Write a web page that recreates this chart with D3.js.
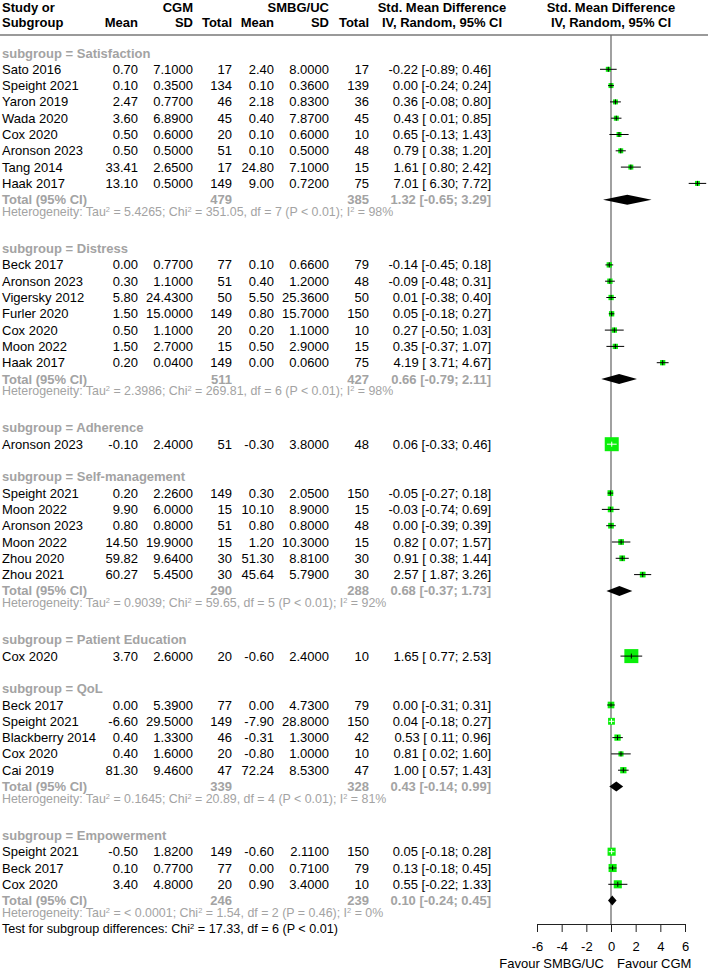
<!DOCTYPE html>
<html>
<head>
<meta charset="utf-8">
<script src="https://cdn.jsdelivr.net/npm/d3@7"></script>
<style>
body { margin: 0; background: #fff; }
text { font-family: Arial, "Liberation Sans", sans-serif; white-space: pre; }
</style>
</head>
<body>
<script>
// subgroups
const subgroups = ["Satisfaction", "Distress", "Adherence", "Self-management", "Patient Education", "QoL", "Empowerment"]

// studies, each pointing into subgroups
const studyGroup = [0,0,0,0,0,0,0,0, 1,1,1,1,1,1,1, 2, 3,3,3,3,3,3, 4, 5,5,5,5,5, 6,6,6]
const studies = ["Sato 2016", "Speight 2021", "Yaron 2019", "Wada 2020", "Cox 2020", "Aronson 2023", "Tang 2014", "Haak 2017",
    "Beck 2017", "Aronson 2023", "Vigersky 2012", "Furler 2020", "Cox 2020", "Moon 2022", "Haak 2017",
    "Aronson 2023",
    "Speight 2021", "Moon 2022", "Aronson 2023", "Moon 2022", "Zhou 2020", "Zhou 2021",
    "Cox 2020",
    "Beck 2017", "Speight 2021", "Blackberry 2014", "Cox 2020", "Cai 2019",
    "Speight 2021", "Beck 2017", "Cox 2020"]

// CGM arm
const cgmMean = [0.70, 0.10, 2.47, 3.60, 0.50, 0.50, 33.41, 13.10,
    0.00, 0.30, 5.80, 1.50, 0.50, 1.50, 0.20,
    -0.10,
    0.20, 9.90, 0.80, 14.50, 59.82, 60.27,
    3.70,
    0.00, -6.60, 0.40, 0.40, 81.30,
    -0.50, 0.10, 3.40]
const cgmSD = [7.1, 0.35, 0.77, 6.89, 0.6, 0.5, 2.65, 0.5,
    0.77, 1.1, 24.43, 15.0, 1.1, 2.7, 0.04,
    2.4,
    2.26, 6.0, 0.8, 19.9, 9.64, 5.45,
    2.6,
    5.39, 29.5, 1.33, 1.6, 9.46,
    1.82, 0.77, 4.8]
const cgmN = [17, 134, 46, 45, 20, 51, 17, 149,
    77, 51, 50, 149, 20, 15, 149,
    51,
    149, 15, 51, 15, 30, 30,
    20,
    77, 149, 46, 20, 47,
    149, 77, 20]

// SMBG/UC arm
const ctlMean = [2.40, 0.10, 2.18, 0.40, 0.10, 0.10, 24.80, 9.00,
    0.10, 0.40, 5.50, 0.80, 0.20, 0.50, 0.00,
    -0.30,
    0.30, 10.10, 0.80, 1.20, 51.30, 45.64,
    -0.60,
    0.00, -7.90, -0.31, -0.80, 72.24,
    -0.60, 0.00, 0.90]
const ctlSD = [8.0, 0.36, 0.83, 7.87, 0.6, 0.5, 7.1, 0.72,
    0.66, 1.2, 25.36, 15.7, 1.1, 2.9, 0.06,
    3.8,
    2.05, 8.9, 0.8, 10.3, 8.81, 5.79,
    2.4,
    4.73, 28.8, 1.3, 1.0, 8.53,
    2.11, 0.71, 3.4]
const ctlN = [17, 139, 36, 45, 10, 48, 15, 75,
    79, 48, 50, 150, 10, 15, 75,
    48,
    150, 15, 48, 15, 30, 30,
    10,
    79, 150, 42, 10, 47,
    150, 79, 10]

// std. mean difference with 95% CI
const smd = [-0.22, 0.00, 0.36, 0.43, 0.65, 0.79, 1.61, 7.01,
    -0.14, -0.09, 0.01, 0.05, 0.27, 0.35, 4.19,
    0.06,
    -0.05, -0.03, 0.00, 0.82, 0.91, 2.57,
    1.65,
    0.00, 0.04, 0.53, 0.81, 1.00,
    0.05, 0.13, 0.55]
const smdLo = [-0.89, -0.24, -0.08, 0.01, -0.13, 0.38, 0.80, 6.30,
    -0.45, -0.48, -0.38, -0.18, -0.50, -0.37, 3.71,
    -0.33,
    -0.27, -0.74, -0.39, 0.07, 0.38, 1.87,
    0.77,
    -0.31, -0.18, 0.11, 0.02, 0.57,
    -0.18, -0.18, -0.22]
const smdHi = [0.46, 0.24, 0.80, 0.85, 1.43, 1.20, 2.42, 7.72,
    0.18, 0.31, 0.40, 0.27, 1.03, 1.07, 4.67,
    0.46,
    0.18, 0.69, 0.39, 1.57, 1.44, 3.26,
    2.53,
    0.31, 0.27, 0.96, 1.60, 1.43,
    0.28, 0.45, 1.33]
// weight within subgroup (%)
const weight = [12.5, 12.5, 12.5, 12.5, 12.5, 12.5, 12.5, 12.5,
    14.3, 14.3, 14.3, 14.3, 14.3, 14.3, 14.3,
    100,
    16.7, 16.7, 16.7, 16.7, 16.7, 16.7,
    100,
    22.5, 24.0, 20.2, 13.1, 20.1,
    33.3, 33.3, 33.3]

// subgroup totals (null = single study)
const poolN1 = [479, 511, null, 290, null, 339, 246]
const poolN2 = [385, 427, null, 288, null, 328, 239]
const poolSmd = [1.32, 0.66, null, 0.68, null, 0.43, 0.10]
const poolLo = [-0.65, -0.79, null, -0.37, null, -0.14, -0.24]
const poolHi = [3.29, 2.11, null, 1.73, null, 0.99, 0.45]
const hetTau2 = ["5.4265", "2.3986", null, "0.9039", null, "0.1645", "< 0.0001"]
const hetChi2 = ["351.05", "269.81", null, "59.65", null, "20.89", "1.54"]
const hetDf = [7, 6, null, 5, null, 4, 2]
const hetP = ["< 0.01", "< 0.01", null, "< 0.01", null, "< 0.01", "= 0.46"]
const hetI2 = ["98%", "98%", null, "92%", null, "81%", "0%"]
const testText = ["Test for subgroup differences: Chi", "2", " = 17.33, df = 6 (P < 0.01)"]

// axis
const tickVals = [-6, -4, -2, 0, 2, 4, 6]
const tickLabels = ["-6", "-4", "-2", "0", "2", "4", "6"]
const labelLeft = "Favour SMBG/UC", labelRight = "Favour CGM"

let width = 708, height = 971
const gray = "#a3a3a3", green = "#0aef0a"

// canvas
let svg = d3.select("body").append("svg")
    .attr("width", width)
    .attr("height", height)
    .style("display", "block")

// columns (right edges) 
const col = {name: 2, m1: 138, sd1: 193, n1: 232, m2: 274, sd2: 329, n2: 369, est: 491}

// build rows
let rows = []
subgroups.forEach(function (g, gi) {
    if (gi > 0) rows.push({type: "blank"})
    rows.push({type: "label", g: gi})
    studyGroup.forEach(function (sg, i) { if (sg === gi) rows.push({type: "study", i: i}) })
    if (poolSmd[gi] != null) {
        rows.push({type: "total", g: gi})
        rows.push({type: "het", g: gi})
    }
})
rows.push({type: "test"})

let y = d3.scaleLinear().domain([0, rows.length - 1]).range([53, 53 + 16.3 * (rows.length - 1)])
let x = d3.scaleLinear().domain([-6, 6]).range([537, 685])
let boxSize = d3.scaleSqrt().domain([0, 100]).range([0, 14])

function ciText(e, lo, hi) {
    return e.toFixed(2) + " [" + (lo >= 0 ? " " : "") + lo.toFixed(2) + "; " + hi.toFixed(2) + "]"
}

function addText(tx, ty, str, anchor, opts) {
    opts = opts || {}
    return svg.append("text")
        .attr("x", tx).attr("y", ty).attr("dy", "0.35em")
        .attr("text-anchor", anchor)
        .attr("font-size", opts.size || 13)
        .attr("font-weight", opts.bold ? "bold" : "normal")
        .attr("fill", opts.fill || "#000")
        .text(str)
}

// text with superscript 2s, parts alternate normal / sup
function addSupText(tx, ty, parts, opts) {
    let t = svg.append("text")
        .attr("x", tx).attr("y", ty).attr("dy", "0.35em")
        .attr("font-size", opts.size)
        .attr("fill", opts.fill)
    parts.forEach(function (p, k) {
        if (k % 2 === 1) {
            t.append("tspan").attr("dy", -4).attr("font-size", opts.size * 0.6).text(p)
        } else {
            t.append("tspan").attr("dy", k > 0 ? 4 : 0).text(p)
        }
    })
}

// header
addText(col.name, 7, "Study or", "start", {bold: true})
addText(col.name, 22, "Subgroup", "start", {bold: true})
addText(col.sd1, 7, "CGM", "end", {bold: true})
addText(col.sd2, 7, "SMBG/UC", "end", {bold: true})
const subHeads = [["Mean", col.m1], ["SD", col.sd1], ["Total", col.n1], ["Mean", col.m2], ["SD", col.sd2], ["Total", col.n2]]
subHeads.forEach(function (h) { addText(h[1], 22, h[0], "end", {bold: true}) })
addText(442, 7, "Std. Mean Difference", "middle", {bold: true})
addText(442, 22, "IV, Random, 95% CI", "middle", {bold: true})
addText(x(0), 7, "Std. Mean Difference", "middle", {bold: true})
addText(x(0), 22, "IV, Random, 95% CI", "middle", {bold: true})

svg.append("line")
    .attr("x1", 0).attr("x2", width)
    .attr("y1", 35).attr("y2", 35)
    .attr("stroke", "#9a9a9a").attr("stroke-width", 2)

// reference line
const axisY = 924
svg.append("line")
    .attr("x1", x(0)).attr("x2", x(0))
    .attr("y1", 35).attr("y2", axisY)
    .attr("stroke", "#6e6e6e").attr("stroke-width", 1.3)

// rows
rows.forEach(function (r, ri) {
    let yy = y(ri)
    if (r.type === "label") {
        addText(col.name, yy, "subgroup = " + subgroups[r.g], "start", {bold: true, fill: gray})
    } else if (r.type === "study") {
        let i = r.i
        addText(col.name, yy, studies[i], "start")
        addText(col.m1, yy, cgmMean[i].toFixed(2), "end")
        addText(col.sd1, yy, cgmSD[i].toFixed(4), "end")
        addText(col.n1, yy, cgmN[i], "end")
        addText(col.m2, yy, ctlMean[i].toFixed(2), "end")
        addText(col.sd2, yy, ctlSD[i].toFixed(4), "end")
        addText(col.n2, yy, ctlN[i], "end")
        addText(col.est, yy, ciText(smd[i], smdLo[i], smdHi[i]), "end")

        let s = boxSize(weight[i])
        let cx = x(smd[i])
        svg.append("rect")
            .attr("x", cx - s / 2).attr("y", yy - s / 2)
            .attr("width", s).attr("height", s)
            .attr("fill", green)
        // CI inside box -> white line
        let inside = x(smdLo[i]) >= cx - s / 2 + 0.5 && x(smdHi[i]) <= cx + s / 2 - 0.5
        let lc = inside ? "#fff" : "#000"
        svg.append("line")
            .attr("x1", x(smdLo[i])).attr("x2", x(smdHi[i]))
            .attr("y1", yy).attr("y2", yy)
            .attr("stroke", lc).attr("stroke-width", 1)
        svg.append("line")
            .attr("x1", cx).attr("x2", cx)
            .attr("y1", yy - 2.5).attr("y2", yy + 2.5)
            .attr("stroke", lc).attr("stroke-width", 1)
    } else if (r.type === "total") {
        let g = r.g
        addText(col.name, yy, "Total (95% CI)", "start", {bold: true, fill: gray})
        addText(col.n1, yy, poolN1[g], "end", {bold: true, fill: gray})
        addText(col.n2, yy, poolN2[g], "end", {bold: true, fill: gray})
        addText(col.est, yy, ciText(poolSmd[g], poolLo[g], poolHi[g]), "end", {bold: true, fill: gray})
        let pts = [[x(poolLo[g]), yy], [x(poolSmd[g]), yy - 5], [x(poolHi[g]), yy], [x(poolSmd[g]), yy + 5]]
        svg.append("path")
            .attr("d", "M" + pts.map(function (p) { return p[0] + "," + p[1] }).join("L") + "Z")
            .attr("fill", "#000")
    } else if (r.type === "het") {
        let g = r.g
        addSupText(col.name, yy, ["Heterogeneity: Tau", "2", " = " + hetTau2[g] + "; Chi", "2",
            " = " + hetChi2[g] + ", df = " + hetDf[g] + " (P " + hetP[g] + "); I", "2", " = " + hetI2[g]],
            {size: 12.4, fill: gray})
    } else if (r.type === "test") {
        addSupText(col.name, yy, testText, {size: 12.6, fill: "#000"})
    }
})

// axis
let axis = svg.append("g")
    .attr("transform", "translate(0," + axisY + ")")
    .call(d3.axisBottom(x).tickValues(tickVals).tickSize(8).tickSizeOuter(0)
        .tickFormat(function (d, i) { return tickLabels[i] }))
axis.select(".domain").attr("stroke", "#222")
axis.selectAll(".tick line").attr("stroke", "#222")
axis.selectAll(".tick text")
    .attr("font-size", 13)
    .attr("font-family", "Arial, 'Liberation Sans', sans-serif")
    .attr("fill", "#000")
    .attr("y", 18)

addText(x(0) - 7, 963, labelLeft, "end")
addText(x(0) + 6, 963, labelRight, "start")
</script>
</body>
</html>
